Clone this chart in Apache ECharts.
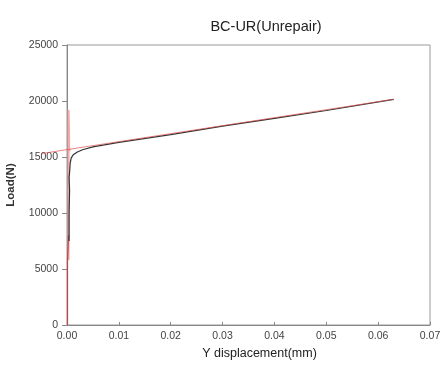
<!DOCTYPE html>
<html>
<head>
<meta charset="utf-8">
<script src="https://cdn.jsdelivr.net/npm/echarts@6/dist/echarts.min.js"></script>
<style>
html,body{margin:0;padding:0;background:#fff;}
#chart{width:440px;height:372px;}
</style>
</head>
<body>
<div id="chart"></div>
<script>
// Data
const xTicks = [0, 0.01, 0.02, 0.03, 0.04, 0.05, 0.06, 0.07];
const yTicks = [0, 5000, 10000, 15000, 20000, 25000];

// measured (black) curve
const blackX = [0.0004, 0.0004, 0.0005, 0.0004, 0.0005, 0.0006, 0.0008, 0.0012, 0.002, 0.003, 0.005, 0.01, 0.02, 0.03, 0.04, 0.05, 0.063];
const blackY = [7500, 10000, 12000, 13200, 13600, 14400, 14900, 15200, 15450, 15650, 15900, 16300, 17000, 17750, 18450, 19150, 20150];

// red vertical trace near zero displacement (lower dark part and pale spike)
const redLowX = [0.0001, 0.0001, 0.0003];
const redLowY = [0, 5800, 8000];
const spikeX = [0.0003, 0.0003, 0.0004, 0.0004, 0.0005];
const spikeY = [5800, 19200, 17000, 16000, 15500];

// red fitted straight line (starts left of the y axis)
const fitX = [-0.005, 0.063];
const fitY = [15300, 20150];

const zip = (xs, ys) => xs.map((x, i) => [x, ys[i]]);

// plot area geometry
const G = {left: 67, top: 45, right: 10, bottom: 47};
const plotW = 440 - G.left - G.right;
const xMin = xTicks[0], xMax = xTicks[xTicks.length - 1];
const pxPerUnit = plotW / (xMax - xMin);
const fitMin = fitX[0];
const grid2Left = G.left - (xMin - fitMin) * pxPerUnit;

const chart = echarts.init(document.getElementById('chart'), null, {renderer: 'canvas'});
const labelFont = {fontFamily: 'Liberation Sans', fontSize: 10.5, color: '#444'};
chart.setOption({
  animation: false,
  backgroundColor: '#fff',
  title: {
    text: 'BC-UR(Unrepair)',
    left: 261, top: 14, textAlign: 'center',
    textStyle: {fontFamily: 'Liberation Sans', fontSize: 14.5, fontWeight: 'normal', color: '#222'}
  },
  grid: [
    {left: G.left, top: G.top, right: G.right, bottom: G.bottom, show: true, borderColor: '#999', borderWidth: 1,
     backgroundColor: 'transparent', containLabel: false, outerBoundsMode: 'none'},
    {left: grid2Left, top: G.top, right: G.right, bottom: G.bottom, show: false,
     containLabel: false, outerBoundsMode: 'none'}
  ],
  xAxis: [{
    type: 'value', min: xMin, max: xMax, interval: 0.01,
    name: 'Y displacement(mm)', nameLocation: 'middle', nameGap: 22,
    nameTextStyle: {fontFamily: 'Liberation Sans', fontSize: 12.5, color: '#222', padding: [0, 0, 0, 22]},
    axisLine: {lineStyle: {color: '#888'}},
    axisTick: {inside: true, length: 3, lineStyle: {color: '#888'}},
    axisLabel: Object.assign({margin: 6, formatter: v => v.toFixed(2)}, labelFont),
    splitLine: {show: false}
  }, {
    type: 'value', gridIndex: 1, min: fitMin, max: xMax, show: false, splitLine: {show: false}
  }],
  yAxis: [{
    type: 'value', min: yTicks[0], max: yTicks[yTicks.length - 1], interval: 5000,
    name: 'Load(N)', nameLocation: 'middle', nameGap: 50, nameRotate: 90,
    nameTextStyle: {fontFamily: 'Liberation Sans', fontSize: 11.5, fontWeight: 'bold', color: '#333'},
    axisLine: {lineStyle: {color: '#888'}},
    axisTick: {length: 5, lineStyle: {color: '#888'}},
    axisLabel: Object.assign({margin: 9, formatter: v => String(v)}, labelFont),
    splitLine: {show: false}
  }, {
    type: 'value', gridIndex: 1, min: yTicks[0], max: yTicks[yTicks.length - 1], show: false, splitLine: {show: false}
  }],
  series: [
    {type: 'line', data: zip(spikeX, spikeY), symbol: 'none', clip: false,
     lineStyle: {color: '#f4a8a8', width: 2}},
    {type: 'line', data: zip(redLowX, redLowY), symbol: 'none', clip: false,
     lineStyle: {color: '#c04848', width: 1.2}},
    {type: 'line', data: zip(blackX, blackY), symbol: 'none', clip: false,
     lineStyle: {color: '#333', width: 1.2}},
    {type: 'line', xAxisIndex: 1, yAxisIndex: 1, data: zip(fitX, fitY), symbol: 'none', clip: false,
     lineStyle: {color: '#e05050', width: 1, opacity: 0.7}}
  ]
});
</script>
</body>
</html>
